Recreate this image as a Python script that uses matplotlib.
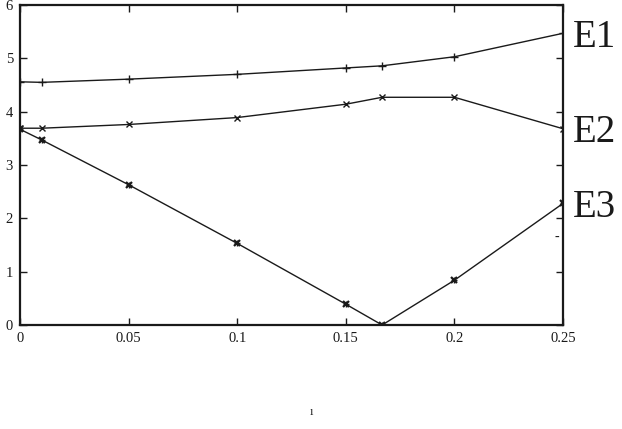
import matplotlib
matplotlib.use("Agg")
import matplotlib.pyplot as plt

plt.rcParams['font.family'] = ['Liberation Serif', 'DejaVu Serif']

# data
x = [0, 0.01, 0.05, 0.1, 0.15, 0.1667, 0.2, 0.25]
e1 = [4.56, 4.55, 4.61, 4.70, 4.82, 4.86, 5.03, 5.47]
e2 = [3.69, 3.69, 3.76, 3.89, 4.14, 4.27, 4.27, 3.68]
e3 = [3.67, 3.47, 2.63, 1.53, 0.39, 0.0, 0.84, 2.28]
labels = ['E1', 'E2', 'E3']
xticks = [0, 0.05, 0.1, 0.15, 0.2, 0.25]
yticks = [0, 1, 2, 3, 4, 5, 6]

fig = plt.figure(figsize=(6.22, 4.29), dpi=100)
ax = fig.add_axes([0.0322, 0.2424, 0.8730, 0.7459])

col = '#1a1a1a'
ax.plot(x, e1, color=col, lw=1, marker='+', ms=6, mew=1)
ax.plot(x, e2, color=col, lw=1, marker='x', ms=5, mew=1)
ax.plot(x, e3, color=col, lw=1, marker='x', ms=5, mew=1.6)
ax.plot(x, e3, color=col, lw=0, marker='+', ms=5, mew=1)

ax.set_xlim(0, 0.25)
ax.set_ylim(0, 6)
ax.set_xticks(xticks)
ax.set_xticklabels(['0', '0.05', '0.1', '0.15', '0.2', '0.25'])
ax.set_yticks(yticks)
ax.tick_params(direction='in', length=5, width=1, top=True, right=True,
               labelsize=10.5, colors=col, pad=5)
ax.tick_params(axis='y', pad=5)
for s in ax.spines.values():
    s.set_linewidth(1.6)
    s.set_color(col)

# series labels at the right
for lab, ys in zip(labels, [e1, e2, e3]):
    ax.annotate(lab, xy=(1.0, ys[-1]), xycoords=('axes fraction', 'data'),
                xytext=(7, -3), textcoords='offset points',
                fontsize=28, va='center', ha='left', color=col)

# small stray marks in the original
ax.text(0.247, 1.65, '-', fontsize=10, ha='center', va='center', color=col)
fig.text(0.5, 0.04, 'ı', fontsize=9, ha='center', va='center', color=col)

fig.savefig('out.png', dpi=100)
